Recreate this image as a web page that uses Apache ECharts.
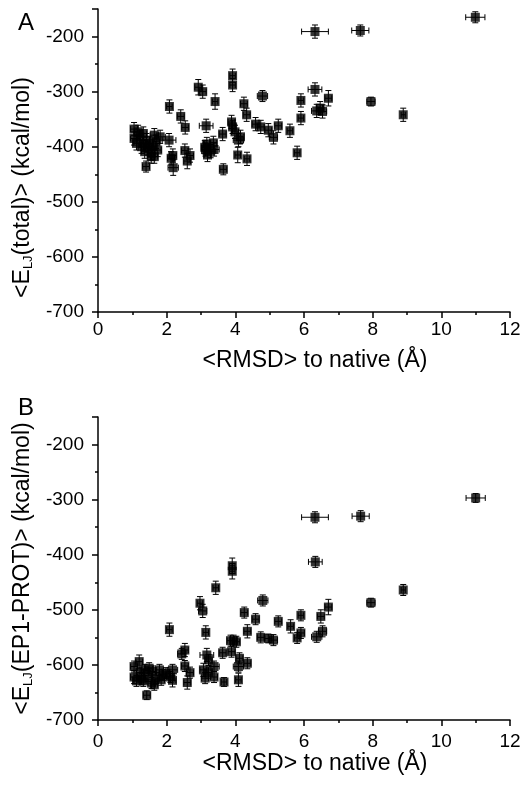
<html>
<head>
<meta charset="utf-8">
<title>LJ energy vs RMSD</title>
<script src="https://cdn.jsdelivr.net/npm/echarts@6/dist/echarts.min.js"></script>
<style>
  body { margin: 0; background: #fff; }
  #chart { width: 530px; height: 785px; }
</style>
</head>
<body>
<div id="chart"></div>
<script>
// panel A: <E_LJ(total)> vs <RMSD>
var rmsdA = [1.05, 1.05, 1.12, 1.17, 1.22, 1.27, 1.32, 1.32, 1.36, 1.41, 1.46, 1.50, 1.55, 1.55, 1.59, 1.64, 1.64, 1.69, 1.74, 1.81,
  1.40, 2.07, 2.08, 2.13, 2.18, 2.19, 2.41, 2.53, 2.54, 2.60, 2.68, 2.92, 3.05, 3.11, 3.13, 3.15, 3.17, 3.19, 3.28, 3.36,
  3.38, 3.41, 3.63, 3.65, 3.89, 3.92, 3.92, 3.92, 3.99, 4.07, 4.09, 4.15, 4.25, 4.33, 4.34, 4.59, 4.74, 4.79, 4.96, 5.11,
  5.25, 5.59, 5.80, 5.91, 5.91, 6.32, 6.32, 6.37, 6.47, 6.54, 6.71, 7.64, 7.95, 8.89, 10.99];
var energyA = [-368, -385, -394, -373, -382, -400, -376, -394, -409, -388, -403, -394, -412, -418, -400, -379, -418, -391, -406, -382,
  -436, -388, -327, -421, -416, -438, -345, -407, -365, -426, -416, -292, -300, -401, -405, -362, -395, -415, -408, -393,
  -405, -318, -377, -441, -355, -271, -288, -364, -373, -415, -388, -382, -322, -342, -422, -359, -364, -308, -370, -383,
  -362, -371, -411, -316, -348, -191, -296, -335, -330, -336, -312, -189, -318, -342, -165];
var rmsdErrA = [0.1, 0.1, 0.1, 0.12, 0.1, 0.1, 0.1, 0.1, 0.1, 0.1, 0.1, 0.12, 0.1, 0.1, 0.1, 0.12, 0.1, 0.1, 0.1, 0.15,
  0.1, 0.2, 0.08, 0.1, 0.1, 0.15, 0.1, 0.1, 0.1, 0.1, 0.1, 0.1, 0.1, 0.1, 0.1, 0.2, 0.1, 0.1, 0.15, 0.1,
  0.15, 0.08, 0.1, 0.1, 0.1, 0.08, 0.08, 0.1, 0.1, 0.08, 0.15, 0.1, 0.1, 0.1, 0.08, 0.1, 0.1, 0.15, 0.1, 0.12,
  0.1, 0.08, 0.08, 0.08, 0.08, 0.39, 0.2, 0.15, 0.1, 0.12, 0.1, 0.25, 0.12, 0.06, 0.28];
var energyErrA = [12, 12, 12, 12, 12, 12, 12, 12, 12, 12, 12, 12, 12, 12, 12, 12, 12, 12, 12, 12,
  10, 12, 12, 12, 12, 14, 12, 12, 12, 14, 12, 14, 12, 12, 12, 12, 12, 12, 12, 12,
  12, 14, 12, 10, 12, 12, 12, 12, 12, 14, 12, 12, 12, 12, 12, 12, 12, 10, 12, 12,
  12, 12, 12, 12, 12, 12, 12, 12, 12, 12, 14, 10, 8, 12, 10];

// panel B: <E_LJ(EP1-PROT)> vs <RMSD>
var rmsdB = [1.05, 1.05, 1.12, 1.20, 1.22, 1.27, 1.32, 1.36, 1.46, 1.49, 1.56, 1.59, 1.64, 1.69, 1.79, 1.84, 1.89, 1.98, 1.42, 2.08,
  2.11, 2.17, 2.17, 2.44, 2.53, 2.53, 2.60, 2.68, 2.97, 3.05, 3.07, 3.12, 3.14, 3.17, 3.22, 3.22, 3.38, 3.38, 3.43, 3.63,
  3.67, 3.86, 3.89, 3.91, 3.91, 3.95, 4.03, 4.09, 4.09, 4.12, 4.26, 4.35, 4.35, 4.59, 4.74, 4.80, 4.96, 5.11, 5.25, 5.61,
  5.80, 5.91, 5.91, 6.32, 6.33, 6.37, 6.49, 6.54, 6.71, 7.65, 7.95, 8.89, 11.0];
var energyB = [-603, -622, -629, -594, -614, -626, -629, -609, -620, -606, -633, -612, -636, -624, -609, -627, -618, -615, -655, -536,
  -622, -609, -628, -580, -573, -602, -632, -614, -488, -502, -609, -624, -541, -582, -591, -614, -603, -622, -460, -578,
  -631, -556, -576, -420, -430, -556, -558, -603, -627, -588, -505, -539, -597, -517, -550, -483, -552, -555, -521, -530,
  -551, -510, -542, -332, -413, -549, -512, -539, -495, -330, -487, -464, -297];
var rmsdErrB = [0.1, 0.1, 0.1, 0.1, 0.1, 0.1, 0.1, 0.1, 0.1, 0.12, 0.1, 0.1, 0.1, 0.1, 0.12, 0.1, 0.1, 0.1, 0.1, 0.08,
  0.1, 0.15, 0.1, 0.12, 0.1, 0.1, 0.1, 0.1, 0.08, 0.12, 0.1, 0.1, 0.08, 0.2, 0.1, 0.1, 0.15, 0.1, 0.08, 0.1,
  0.08, 0.1, 0.1, 0.08, 0.08, 0.1, 0.1, 0.15, 0.08, 0.1, 0.1, 0.1, 0.1, 0.1, 0.1, 0.15, 0.1, 0.12, 0.1, 0.08,
  0.08, 0.08, 0.1, 0.39, 0.2, 0.15, 0.1, 0.12, 0.1, 0.25, 0.12, 0.06, 0.28];
var energyErrB = [10, 12, 10, 12, 10, 10, 10, 10, 10, 10, 10, 10, 10, 10, 10, 10, 10, 10, 8, 12,
  10, 10, 12, 10, 12, 10, 12, 10, 12, 12, 12, 10, 12, 12, 10, 10, 10, 10, 12, 10,
  8, 10, 10, 14, 14, 10, 10, 10, 12, 10, 10, 12, 10, 10, 10, 10, 8, 10, 10, 12,
  10, 10, 10, 10, 10, 10, 12, 10, 14, 10, 8, 10, 8];

function rows(xs, ys, xe, ye) {
  return xs.map(function (x, i) { return [x, ys[i], xe[i], ye[i]]; });
}

function errorBars(params, api) {
  var x = api.value(0), y = api.value(1), xe = api.value(2), ye = api.value(3);
  var c = api.coord([x, y]);
  var l = api.coord([x - xe, y])[0], r = api.coord([x + xe, y])[0];
  var t = api.coord([x, y + ye])[1], b = api.coord([x, y - ye])[1];
  var cap = 3;
  var st = { stroke: '#000', lineWidth: 1 };
  return {
    type: 'group',
    children: [
      { type: 'line', shape: { x1: l, y1: c[1], x2: r, y2: c[1] }, style: st },
      { type: 'line', shape: { x1: l, y1: c[1] - cap, x2: l, y2: c[1] + cap }, style: st },
      { type: 'line', shape: { x1: r, y1: c[1] - cap, x2: r, y2: c[1] + cap }, style: st },
      { type: 'line', shape: { x1: c[0], y1: t, x2: c[0], y2: b }, style: st },
      { type: 'line', shape: { x1: c[0] - cap, y1: t, x2: c[0] + cap, y2: t }, style: st },
      { type: 'line', shape: { x1: c[0] - cap, y1: b, x2: c[0] + cap, y2: b }, style: st }
    ]
  };
}

var font = 'Liberation Sans, Arial, sans-serif';

function xAxisFor(idx, margin, gap) {
  return {
    type: 'value', gridIndex: idx, min: 0, max: 12, interval: 2,
    name: '<RMSD> to native (Å)', nameLocation: 'middle', nameGap: gap,
    nameTextStyle: { fontFamily: font, fontSize: 23, color: '#000', padding: [0, 0, 0, 22] },
    axisLine: { lineStyle: { color: '#000', width: 1.5 } },
    axisTick: { length: 6, lineStyle: { color: '#000', width: 1.5 } },
    minorTick: { show: true, splitNumber: 2, length: 3, lineStyle: { color: '#000', width: 1.5 } },
    axisLabel: { margin: margin, fontFamily: font, fontSize: 19, color: '#000' },
    splitLine: { show: false }
  };
}

function yAxisFor(idx, name, pad) {
  return {
    type: 'value', gridIndex: idx, min: -700, max: -150, interval: 100,
    name: name, nameLocation: 'middle', nameGap: 63, nameRotate: 90,
    nameTextStyle: {
      fontFamily: font, fontSize: 23, color: '#000', padding: pad,
      rich: {
        t: { fontFamily: font, fontSize: 23, color: '#000' },
        s: { fontFamily: font, fontSize: 13, color: '#000', padding: [11, 0, 0, 0] }
      }
    },
    axisLine: { lineStyle: { color: '#000', width: 1.5 } },
    axisTick: { length: 6, lineStyle: { color: '#000', width: 1.5 } },
    minorTick: { show: true, splitNumber: 2, length: 3, lineStyle: { color: '#000', width: 1.5 } },
    axisLabel: {
      margin: 14, fontFamily: font, fontSize: 19, color: '#000',
      formatter: function (v) { return v > -200 ? '' : String(v); }
    },
    splitLine: { show: false }
  };
}

var chart = echarts.init(document.getElementById('chart'));
chart.setOption({
  animation: false,
  backgroundColor: '#fff',
  title: [
    { text: 'A', left: 13, top: 6, textStyle: { fontFamily: font, fontSize: 24, fontWeight: 'normal', color: '#000' } },
    { text: 'B', left: 13, top: 391, textStyle: { fontFamily: font, fontSize: 24, fontWeight: 'normal', color: '#000' } }
  ],
  grid: [
    { left: 98, right: 20, top: 9, height: 303 },
    { left: 98, right: 20, top: 417, height: 303 }
  ],
  xAxis: [xAxisFor(0, 8, 37), xAxisFor(1, 12, 25)],
  yAxis: [
    yAxisFor(0, '{t|<E}{s|LJ}{t|(total)> (kcal/mol)}', [0, 54, 0, 0]),
    yAxisFor(1, '{t|<E}{s|LJ}{t|(EP1-PROT)> (kcal/mol)}', [0, 0, 0, 0])
  ],
  series: [
    { type: 'custom', xAxisIndex: 0, yAxisIndex: 0, renderItem: errorBars,
      data: rows(rmsdA, energyA, rmsdErrA, energyErrA), encode: { x: 0, y: 1 }, z: 2 },
    { type: 'scatter', xAxisIndex: 0, yAxisIndex: 0, symbol: 'rect', symbolSize: 9,
      itemStyle: { color: '#000' }, data: rows(rmsdA, energyA, rmsdErrA, energyErrA), z: 3 },
    { type: 'custom', xAxisIndex: 1, yAxisIndex: 1, renderItem: errorBars,
      data: rows(rmsdB, energyB, rmsdErrB, energyErrB), encode: { x: 0, y: 1 }, z: 2 },
    { type: 'scatter', xAxisIndex: 1, yAxisIndex: 1, symbol: 'rect', symbolSize: 9,
      itemStyle: { color: '#000' }, data: rows(rmsdB, energyB, rmsdErrB, energyErrB), z: 3 }
  ]
});
</script>
</body>
</html>
